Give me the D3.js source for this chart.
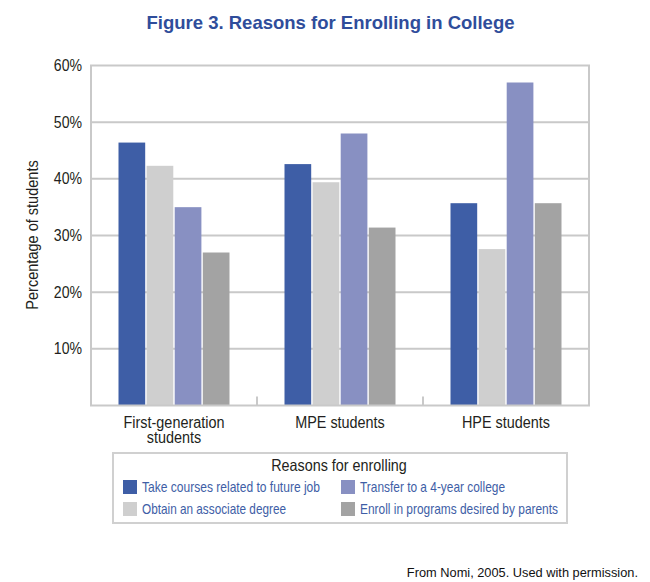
<!DOCTYPE html>
<html><head><meta charset="utf-8">
<script src="https://cdn.jsdelivr.net/npm/d3@7"></script>
<style>body{margin:0;background:#fff}</style>
</head><body>
<script>
const groups = ["First-generation students", "MPE students", "HPE students"];
const groupLines = [["First-generation", "students"], ["MPE students"], ["HPE students"]];
const seriesNames = ["Take courses related to future job", "Obtain an associate degree", "Transfer to a 4-year college", "Enroll in programs desired by parents"];
const seriesColors = ["#3e5ea6", "#cfcfcf", "#8890c2", "#a3a3a3"];
const takeCourses = [46.4, 42.6, 35.7];
const associate = [42.3, 39.4, 27.6];
const transfer = [35.0, 48.0, 57.0];
const parents = [27.0, 31.4, 35.7];
const yTicks = [10, 20, 30, 40, 50, 60];

const values = [takeCourses, associate, transfer, parents];
const W = 650, H = 582;
const sans = "'Liberation Sans', Arial, sans-serif";
const svg = d3.select("body").append("svg").attr("width", W).attr("height", H);

// condense text (reference uses a narrow face)
function condense(sel, factor) {
  sel.each(function () {
    const len = this.getComputedTextLength();
    d3.select(this).attr("textLength", len * factor).attr("lengthAdjust", "spacingAndGlyphs");
  });
}

const L = 91, R = 589, T = 65.5, B = 405.5;
const x0 = d3.scaleBand().domain(groups).range([L, R]).paddingInner(0).paddingOuter(0);
const x1 = d3.scaleBand().domain(seriesNames).range([27.5, x0.bandwidth() - 27.5]).paddingInner(0.05);
const y = d3.scaleLinear().domain([0, 60]).range([B, T]);

svg.append("text").attr("x", 330.5).attr("y", 29).attr("text-anchor", "middle")
  .attr("font-family", sans).attr("font-weight", "bold")
  .attr("font-size", 18.5).attr("fill", "#2f4d9b").text("Figure 3. Reasons for Enrolling in College");

// gridlines
const gridColor = "#c9c9c9";
svg.append("g").selectAll("line").data(yTicks.slice(0, -1)).join("line")
  .attr("x1", L).attr("x2", R).attr("y1", d => y(d)).attr("y2", d => y(d))
  .attr("stroke", gridColor).attr("stroke-width", 2);

// bars
const gBars = svg.append("g");
groups.forEach((g, gi) => {
  seriesNames.forEach((s, si) => {
    gBars.append("rect")
      .attr("x", x0(g) + x1(s)).attr("width", x1.bandwidth())
      .attr("y", y(values[si][gi])).attr("height", B - y(values[si][gi]))
      .attr("fill", seriesColors[si]);
  });
});

// frame
svg.append("rect").attr("x", L).attr("y", T).attr("width", R - L).attr("height", B - T)
  .attr("fill", "none").attr("stroke", gridColor).attr("stroke-width", 2);

// group separator ticks
svg.append("g").selectAll("line").data(groups.slice(1)).join("line")
  .attr("x1", d => x0(d)).attr("x2", d => x0(d)).attr("y1", B - 9).attr("y2", B)
  .attr("stroke", gridColor).attr("stroke-width", 2);

// y axis labels
const yAxis = d3.axisLeft(y).tickValues(yTicks).tickFormat(d => d + "%").tickSize(0).tickPadding(9);
const ya = svg.append("g").attr("transform", `translate(${L},0)`).call(yAxis);
ya.select(".domain").remove();
ya.selectAll("text").attr("font-family", sans).attr("font-size", 16).attr("fill", "#231f20");
condense(ya.selectAll("text"), 0.88);

const yt = svg.append("text").attr("transform", `translate(38,235) rotate(-90)`).attr("text-anchor", "middle")
  .attr("font-family", sans).attr("font-size", 16.5).attr("fill", "#231f20").text("Percentage of students");
condense(yt, 0.88);

// category labels
groups.forEach((g, gi) => {
  const t = svg.append("text").attr("text-anchor", "middle").attr("font-family", sans)
    .attr("font-size", 16).attr("fill", "#231f20");
  groupLines[gi].forEach((ln, li) => {
    t.append("tspan").attr("x", x0(g) + x0.bandwidth() / 2).attr("y", 428 + li * 15).text(ln);
  });
  condense(t.selectAll("tspan"), 0.9);
});

// legend
svg.append("rect").attr("x", 113).attr("y", 453).attr("width", 454).attr("height", 70)
  .attr("fill", "#fff").attr("stroke", "#d0d0d0").attr("stroke-width", 2);
const lt = svg.append("text").attr("x", 339).attr("y", 471).attr("text-anchor", "middle")
  .attr("font-family", sans).attr("font-size", 16.5).attr("fill", "#231f20").text("Reasons for enrolling");
condense(lt, 0.87);
const legPos = [[123, 480], [123, 502], [341, 480], [341, 502]];
const legTextWidths = [178, 144, 145, 198];
seriesNames.forEach((s, i) => {
  const [lx, ly] = legPos[i];
  svg.append("rect").attr("x", lx).attr("y", ly).attr("width", 14).attr("height", 14).attr("fill", seriesColors[i]);
  svg.append("text").attr("x", lx + 19).attr("y", ly + 12).attr("font-family", sans)
    .attr("font-size", 15).attr("fill", "#3e5ea6").text(s)
    .attr("textLength", legTextWidths[i]).attr("lengthAdjust", "spacingAndGlyphs");
});

svg.append("text").attr("x", 638).attr("y", 577).attr("text-anchor", "end")
  .attr("font-family", sans).attr("font-size", 12.8)
  .attr("fill", "#111").text("From Nomi, 2005. Used with permission.");
</script>
</body></html>
